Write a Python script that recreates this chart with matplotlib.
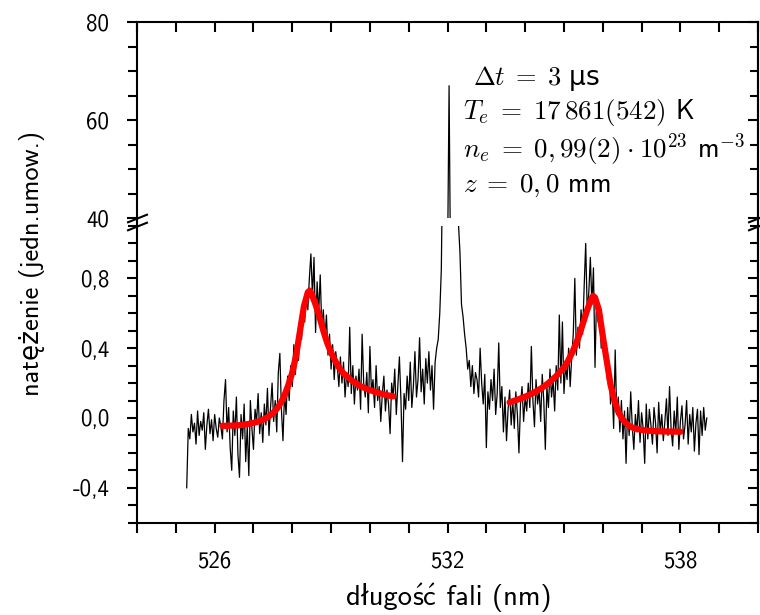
import numpy as np
import matplotlib
matplotlib.use('Agg')
import matplotlib.pyplot as plt
from matplotlib.ticker import MultipleLocator, FixedLocator, FuncFormatter
from matplotlib.lines import Line2D
from matplotlib.offsetbox import TextArea, HPacker, AnnotationBbox

plt.rcParams['font.family'] = ['cmss10', 'DejaVu Sans']
plt.rcParams['mathtext.fontset'] = 'cm'
plt.rcParams['axes.unicode_minus'] = False

# measured spectrum, sampled every 0.04 nm from 525.28 nm
wl_start = 525.28
wl_step = 0.04
intensity = [
    -0.40, -0.06, -0.12, 0.02, -0.08, -0.03, -0.15, 0.04, -0.10, -0.02,
    -0.07, 0.03, -0.18, -0.04, 0.05, -0.09, -0.01, -0.13, 0.02, -0.06,
    -0.11, 0.00, -0.05, -0.12, 0.10, 0.22, -0.08, 0.06, -0.17, -0.30,
    0.04, -0.10, 0.12, -0.21, -0.34, 0.02, -0.12, 0.08, -0.25, -0.05,
    -0.33, 0.10, -0.06, -0.18, 0.05, -0.02, 0.14, -0.09, 0.03, -0.14,
    0.08, -0.04, 0.17, -0.10, 0.06, 0.20, -0.02, 0.10, -0.08, 0.26,
    0.37, 0.05, -0.13, 0.14, 0.02, 0.24, 0.10, 0.30, 0.18, 0.42,
    0.25, 0.40, 0.33, 0.52, 0.45, 0.66, 0.55, 0.72, 0.62, 0.80,
    0.94, 0.70, 0.92, 0.49, 0.78, 0.60, 0.82, 0.52, 0.62, 0.45,
    0.59, 0.36, 0.48, 0.28, 0.42, 0.22, 0.38, 0.30, 0.18, 0.35,
    0.20, 0.32, 0.12, 0.26, 0.18, 0.52, 0.14, 0.30, 0.08, 0.24,
    0.16, 0.28, 0.05, 0.48, 0.20, 0.12, 0.26, 0.03, 0.41, 0.15,
    0.22, 0.06, 0.30, 0.10, 0.18, -0.02, 0.14, 0.24, 0.04, 0.16,
    0.08, -0.09, 0.20, 0.12, 0.28, 0.02, 0.18, 0.35, 0.10, -0.25,
    0.14, 0.05, 0.24, 0.10, 0.32, 0.06, 0.18, 0.38, 0.12, 0.22,
    0.46, 0.15, 0.28, 0.08, 0.34, 0.20, 0.38, 0.16, 0.30, 0.05,
    0.32, 0.40, 0.45, 0.60, 0.85, 1.6, 4.0, 12.0, 30.0, 67.0,
    26.0, 9.0, 4.0, 2.2, 1.5, 1.12, 0.95, 0.65, 0.58, 0.48,
    0.40, 0.28, 0.33, 0.18, 0.30, 0.14, 0.26, 0.22, 0.12, 0.40,
    0.20, 0.08, 0.25, -0.17, 0.15, 0.05, 0.22, 0.10, 0.28, 0.02,
    0.14, 0.43, 0.06, 0.18, -0.08, 0.12, -0.13, 0.05, 0.16, -0.04,
    0.10, -0.06, 0.15, 0.02, -0.20, 0.08, 0.18, -0.02, 0.12, 0.04,
    0.20, 0.06, 0.41, 0.10, -0.05, 0.22, 0.08, 0.16, -0.02, 0.25,
    0.10, -0.18, 0.18, 0.06, 0.28, 0.12, 0.22, 0.04, 0.30, 0.16,
    0.59, 0.20, 0.55, 0.14, 0.30, 0.22, 0.40, 0.18, 0.35, 0.48,
    0.80, 0.36, 0.52, 0.40, 0.62, 0.48, 0.75, 1.00, 0.60, 0.72,
    0.92, 0.65, 0.86, 0.29, 0.70, 0.55, 0.62, 0.40, 0.50, 0.49,
    0.36, 0.22, 0.30, 0.08, 0.18, -0.06, 0.39, 0.02, 0.12, -0.08,
    0.10, -0.12, 0.04, -0.26, 0.06, -0.10, 0.15, -0.05, -0.18, 0.02,
    -0.08, 0.10, -0.14, 0.03, -0.06, -0.26, 0.08, -0.12, 0.05, -0.04,
    -0.15, 0.06, -0.03, -0.20, 0.09, -0.08, 0.02, -0.13, -0.02, 0.11,
    -0.10, 0.18, -0.06, -0.16, 0.04, -0.09, 0.12, -0.18, -0.02, 0.07,
    -0.12, -0.04, 0.10, -0.15, 0.02, -0.08, 0.06, -0.19, -0.03, 0.05,
    -0.21, 0.04, -0.10, 0.06, -0.07, 0.00,
]
wl = wl_start + wl_step * np.arange(len(intensity))

# fitted profiles (red)
fit_left_wl = [526.2, 526.3, 526.4, 526.5, 526.6, 526.7, 526.8, 526.9, 527.0, 527.1,
               527.2, 527.3, 527.4, 527.5, 527.6, 527.7, 527.8, 527.9, 528.0, 528.1,
               528.2, 528.3, 528.4, 528.45, 528.5, 528.6, 528.7, 528.8, 528.9, 529.0,
               529.1, 529.2, 529.3, 529.4, 529.5, 529.6, 529.7, 529.8, 529.9, 530.0,
               530.1, 530.2, 530.3, 530.4, 530.5, 530.6]
fit_left = [-0.045, -0.045, -0.044, -0.043, -0.042, -0.040, -0.037, -0.033, -0.028, -0.022,
            -0.014, -0.004, 0.010, 0.028, 0.052, 0.085, 0.13, 0.19, 0.26, 0.36,
            0.50, 0.64, 0.72, 0.73, 0.71, 0.65, 0.58, 0.50, 0.43, 0.375,
            0.33, 0.29, 0.26, 0.24, 0.22, 0.205, 0.19, 0.178, 0.168, 0.16,
            0.152, 0.145, 0.139, 0.133, 0.128, 0.124]

fit_right_wl = [533.6, 533.7, 533.8, 533.9, 534.0, 534.1, 534.2, 534.3, 534.4, 534.5,
                534.6, 534.7, 534.8, 534.9, 535.0, 535.1, 535.2, 535.3, 535.4, 535.5,
                535.6, 535.7, 535.75, 535.8, 535.9, 536.0, 536.1, 536.2, 536.3, 536.4,
                536.5, 536.6, 536.7, 536.8, 536.9, 537.0, 537.1, 537.2, 537.3, 537.4,
                537.5, 537.6, 537.7, 537.8, 537.9, 538.0]
fit_right = [0.090, 0.097, 0.105, 0.113, 0.122, 0.132, 0.143, 0.155, 0.168, 0.183,
             0.20, 0.22, 0.24, 0.265, 0.29, 0.325, 0.37, 0.42, 0.48, 0.55,
             0.62, 0.68, 0.70, 0.69, 0.62, 0.47, 0.33, 0.19, 0.10, 0.035,
             -0.005, -0.03, -0.048, -0.058, -0.064, -0.068, -0.071, -0.073, -0.075, -0.076,
             -0.077, -0.077, -0.078, -0.078, -0.078, -0.079]

x_labels = [526, 532, 538]

fig = plt.figure(figsize=(7.6, 6.15), dpi=100)
ax_top = fig.add_axes([0.1803, 0.6455, 0.8171, 0.3187])
ax_bot = fig.add_axes([0.1803, 0.1501, 0.8171, 0.4824])

for ax in (ax_top, ax_bot):
    ax.plot(wl, intensity, color='black', lw=0.9)
    ax.set_xlim(524, 540)
    for s in ax.spines.values():
        s.set_linewidth(1.5)

ax_bot.plot(fit_left_wl, fit_left, color='#ff0000', lw=4.5, solid_capstyle='round')
ax_bot.plot(fit_right_wl, fit_right, color='#ff0000', lw=4.5, solid_capstyle='round')

ax_top.set_ylim(40, 80)
ax_bot.set_ylim(-0.6, 1.1)
ax_top.spines['bottom'].set_visible(False)
ax_bot.spines['top'].set_visible(False)

def comma(v, pos):
    if abs(v) < 1e-9:
        v = 0.0
    return f"{v:.1f}".replace('.', ',')

# x axis
ax_bot.xaxis.set_major_locator(FixedLocator(x_labels))
ax_bot.xaxis.set_minor_locator(MultipleLocator(1))
ax_bot.tick_params(axis='x', which='both', direction='out', top=False, length=7,
                   width=1.5, labelsize=16.5, pad=13)
ax_top.xaxis.set_major_locator(MultipleLocator(1))
ax_top.tick_params(axis='x', which='both', direction='in', top=True, bottom=False,
                   labelbottom=False, length=7, width=1.5)

# y axes
ax_top.yaxis.set_major_locator(MultipleLocator(20))
ax_top.yaxis.set_minor_locator(MultipleLocator(5))
ax_bot.yaxis.set_major_locator(MultipleLocator(0.4))
ax_bot.yaxis.set_minor_locator(MultipleLocator(0.1))
ax_bot.yaxis.set_major_formatter(FuncFormatter(comma))
for ax in (ax_top, ax_bot):
    ax.tick_params(axis='y', which='both', direction='out', right=False, width=1.5,
                   labelsize=16.5, pad=13)
    ax.tick_params(axis='y', which='major', length=7)
    ax.tick_params(axis='y', which='minor', length=6.5)
    sec = ax.secondary_yaxis('right')
    sec.yaxis.set_major_locator(ax.yaxis.get_major_locator())
    sec.yaxis.set_minor_locator(ax.yaxis.get_minor_locator())
    sec.tick_params(which='both', direction='in', labelright=False, width=1.5)
    sec.tick_params(which='major', length=7)
    sec.tick_params(which='minor', length=5.5)
    sec.spines['right'].set_linewidth(1.5)

# axis break marks
kw = dict(marker=[(-1, -0.4), (1, 0.4)], markersize=15, linestyle='none',
          color='k', mec='k', mew=1.5, clip_on=False)
ax_top.plot([0, 1], [0, 0], transform=ax_top.transAxes, **kw)
ax_bot.plot([0, 1], [1, 1], transform=ax_bot.transAxes, **kw)
p_top = ax_top.get_position()
p_bot = ax_bot.get_position()
for xx in (p_top.x0, p_top.x1):
    fig.add_artist(Line2D([xx, xx], [p_bot.y1, p_top.y0], transform=fig.transFigure,
                          color='k', lw=1.5))

# annotation
ax_top.text(0.541, 0.714, r'$\Delta t\;=\;3$ μs', transform=ax_top.transAxes,
            fontsize=19, va='center', family=['DejaVu Sans'])
ax_top.text(0.525, 0.536, r'$T_e\;=\;17\,861(542)$ K', transform=ax_top.transAxes,
            fontsize=19.5, va='center')
ax_top.text(0.525, 0.347, r'$n_e\;=\;0,99(2)\:\cdot\:10^{23}$ m$^{-3}$',
            transform=ax_top.transAxes, fontsize=19.5, va='center')
ax_top.text(0.525, 0.163, r'$z\;=\;0,0$ mm', transform=ax_top.transAxes,
            fontsize=19.5, va='center')

fig.text(32 / 760, 1 - 263 / 615, 'natężenie (jedn.umow.)', rotation=90,
         ha='center', va='center', fontsize=19)

# x label built from pieces so every Polish letter has a glyph
tp = dict(fontsize=20.5, family=['cmss10', 'DejaVu Sans'])
xl_parts = [TextArea('długo', textprops=tp),
            TextArea(r'$\mathsf{\acute{s}\acute{c}}$', textprops=tp),
            TextArea(' fali (nm)', textprops=tp)]
xl_box = HPacker(children=xl_parts, align='baseline', pad=0, sep=0)
fig.add_artist(AnnotationBbox(xl_box, (449 / 760, 1 - 598 / 615),
                              xycoords='figure fraction', frameon=False,
                              box_alignment=(0.5, 0.5), pad=0))

fig.savefig('out.png', dpi=100)
